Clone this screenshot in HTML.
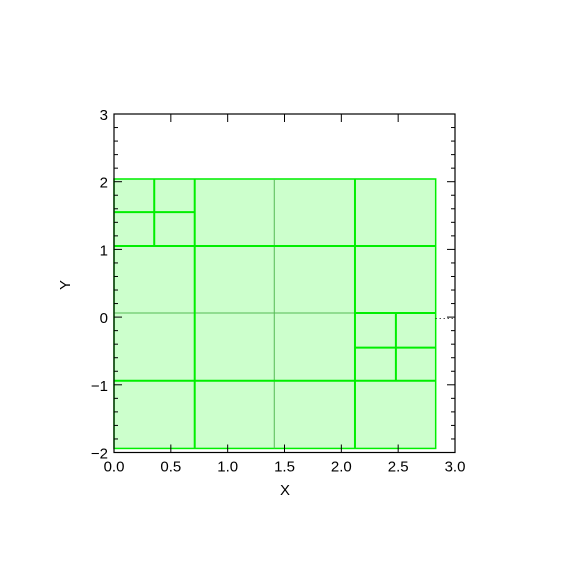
<!DOCTYPE html>
<html><head><meta charset="utf-8"><style>
body{margin:0;background:#fff}
svg{display:block;font-family:"Liberation Sans",sans-serif}
</style></head><body>
<svg id="c" width="570" height="570"></svg>
<script>
const xTicks=[0,0.5,1,1.5,2,2.5,3];
const xTickLabels=["0.0","0.5","1.0","1.5","2.0","2.5","3.0"];
const yTicks=[-2,-1,0,1,2,3];
const yTickLabels=["−2","−1","0","1","2","3"];
const boxX=[0,2.83];
const boxY=[-1.94,2.04];
// thick segments [x1,y1,x2,y2]
const thickSegs=[[0.354,2.04,0.354,1.05],[0,1.55,0.71,1.55],[0.71,2.04,0.71,-1.94],[2.12,2.04,2.12,-1.94],[0,1.05,2.83,1.05],[0,-0.94,2.83,-0.94],[2.12,0.06,2.83,0.06],[2.48,0.06,2.48,-0.94],[2.12,-0.45,2.83,-0.45]];
const thinSegs=[[1.41,2.04,1.41,-1.94],[0,0.06,2.12,0.06]];
const X=v=>114+v*(341/3), Y=v=>114+(3-v)*67.7;
const s=document.getElementById('c'),NS='http://www.w3.org/2000/svg';
function mk(t,a,txt){const e=document.createElementNS(NS,t);for(const k in a)e.setAttribute(k,a[k]);if(txt!=null)e.textContent=txt;s.appendChild(e);return e;}
let e=mk('rect',{x:X(boxX[0]),y:Y(boxY[1]),width:X(boxX[1])-X(boxX[0]),height:Y(boxY[0])-Y(boxY[1]),fill:'#ccffcc',stroke:'#00ee00','stroke-width':1.5});


thinSegs.forEach(g=>{const l=mk('line',{x1:X(g[0]),y1:Y(g[1]),x2:X(g[2]),y2:Y(g[3]),stroke:'#55bb55','stroke-width':1});

});
thickSegs.forEach(g=>{const l=mk('line',{x1:X(g[0]),y1:Y(g[1]),x2:X(g[2]),y2:Y(g[3]),stroke:'#00ee00','stroke-width':2});

});
let d=mk('line',{x1:X(2.83),y1:Y(-0.02),x2:455,y2:Y(-0.02),stroke:'#000','stroke-dasharray':'1,3'});


let f=mk('rect',{x:114,y:114,width:341,height:Y(-2)-114,fill:'none',stroke:'#000','stroke-width':1.2});


xTicks.forEach((v,i)=>{const x=X(v);
mk('line',{x1:x,y1:Y(-2),x2:x,y2:Y(-2)-8,stroke:'#000'});mk('line',{x1:x,y1:114,x2:x,y2:122,stroke:'#000'});
const t=mk('text',{x:x,y:Y(-2)+19,'text-anchor':'middle','font-size':15},xTickLabels[i]);

});
for(let v=-2;v<=3.001;v+=0.2){const y=Y(v),maj=Math.abs(v-Math.round(v))<1e-6,L=maj?8:4;
mk('line',{x1:114,y1:y,x2:114+L,y2:y,stroke:'#000'});mk('line',{x1:455,y1:y,x2:455-L,y2:y,stroke:'#000'});}
yTicks.forEach((v,i)=>{const t=mk('text',{x:108,y:Y(v)+6,'text-anchor':'end','font-size':15},yTickLabels[i]);

});
let xt=mk('text',{x:285,y:495,'text-anchor':'middle','font-size':15},'X');


let yt=mk('text',{x:70,y:285,'text-anchor':'middle','font-size':15,transform:'rotate(-90 70 285)'},'Y');


</script>
</body></html>
